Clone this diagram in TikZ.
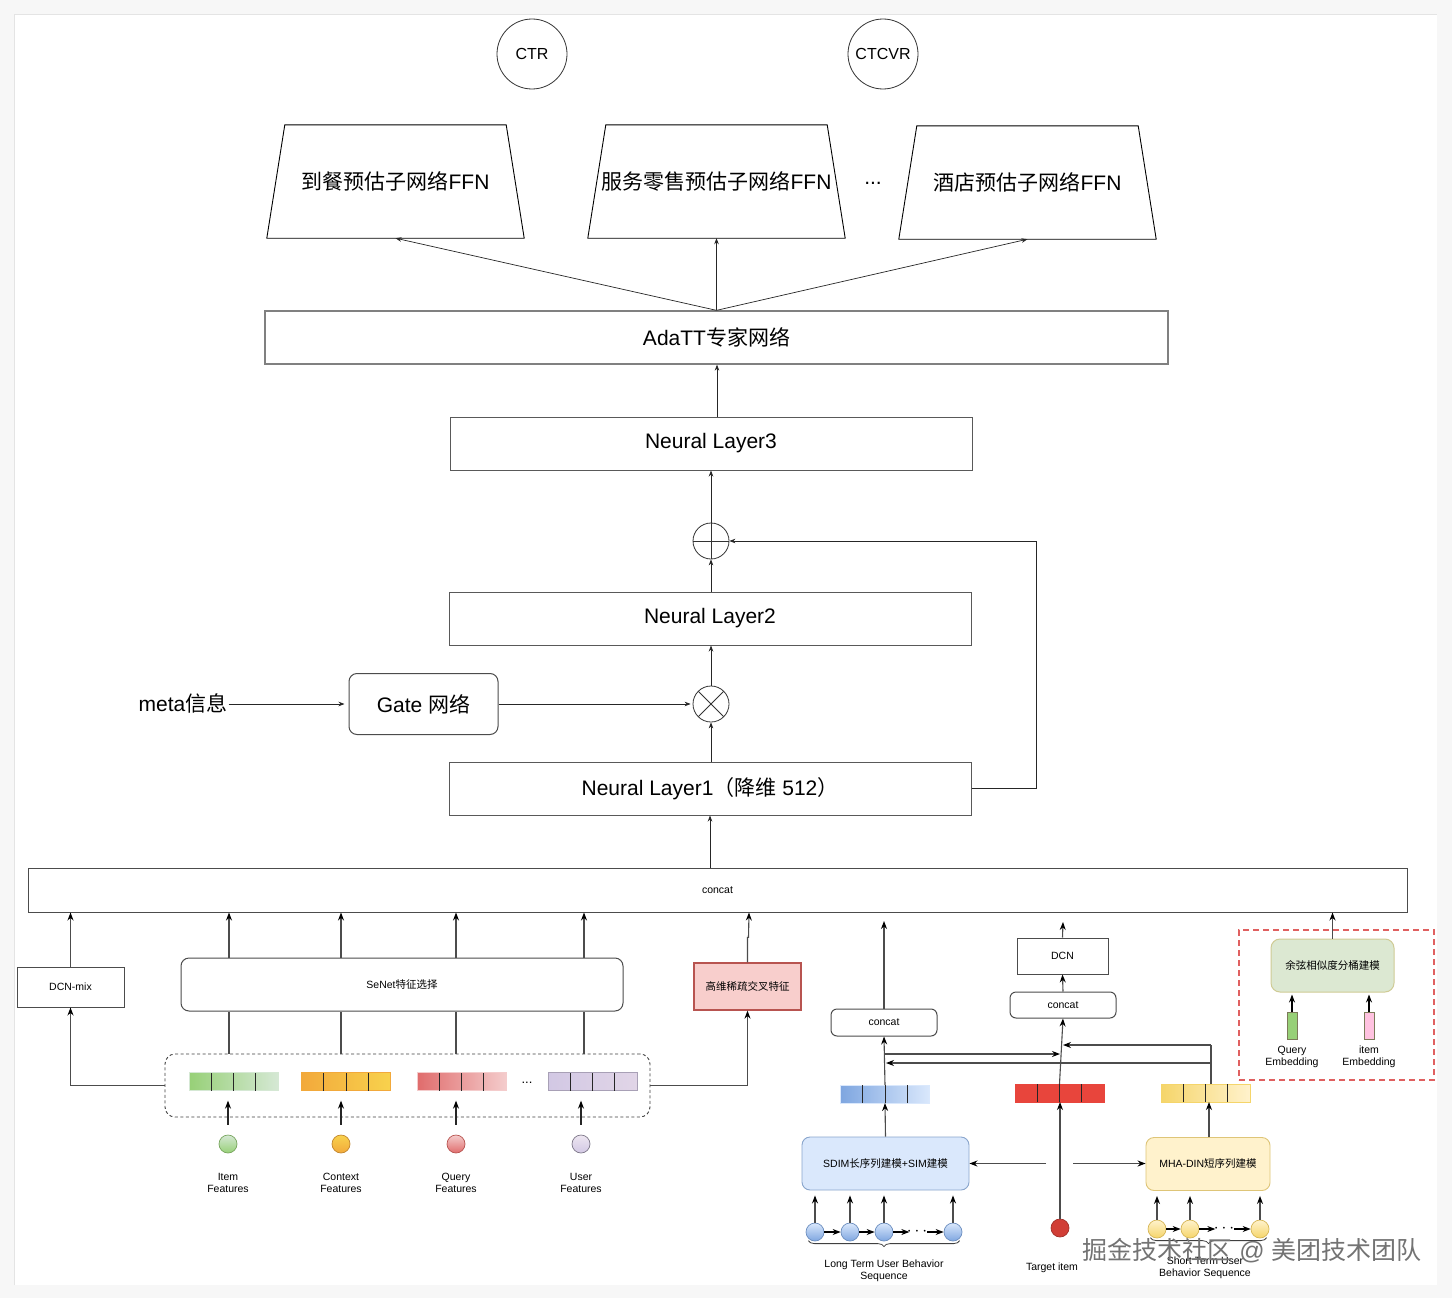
\documentclass[tikz,border=0pt]{standalone}
\usepackage{fontspec}
\setmainfont{Liberation Sans}
\newfontfamily\cjk{Noto Sans CJK SC}
\newcommand\zh[1]{{\cjk #1}}
\newcommand\bigf{\fontsize{21}{25}\selectfont}
\newcommand\smallf{\fontsize{10.5}{12.5}\selectfont}
\usetikzlibrary{arrows.meta,decorations.pathreplacing}

\definecolor{pagebg}{HTML}{F7F7F7}
\definecolor{panelline}{HTML}{E4E4E4}
\definecolor{greenA}{HTML}{97D077}
\definecolor{greenB}{HTML}{D5E8D4}
\definecolor{orangeA}{HTML}{F2A93B}
\definecolor{orangeB}{HTML}{F8D24D}
\definecolor{redA}{HTML}{E06C6C}
\definecolor{redB}{HTML}{F4CCCC}
\definecolor{purpA}{HTML}{D2C8E4}
\definecolor{purpB}{HTML}{E1D5E7}
\definecolor{blueA}{HTML}{7EA6E0}
\definecolor{blueB}{HTML}{DAE8FC}
\definecolor{blueLine}{HTML}{6C8EBF}
\definecolor{tgtRed}{HTML}{E8453C}
\definecolor{yelA}{HTML}{F5D56A}
\definecolor{yelB}{HTML}{FFF2CC}
\definecolor{yelLine}{HTML}{D6B656}
\definecolor{pinkRed}{HTML}{F8CECC}
\definecolor{pinkLine}{HTML}{B85450}
\definecolor{dashRed}{HTML}{E06060}
\definecolor{cosFill}{HTML}{DCE8D2}
\definecolor{cosLine}{HTML}{CFCB95}

\newcommand\cells[1]{\foreach \k in {1,2,3}
  \draw[black!85, line width=0.8pt] ([xshift=\k*22.25]#1.south west) -- ([xshift=\k*22.25]#1.north west);}
\newcommand\tower[1]{\draw[black, line width=0.9pt] (#1.south west) -- ([xshift=18]#1.north west)
  -- ([xshift=-18]#1.north east) -- (#1.south east) -- cycle;}

\begin{document}
\begin{tikzpicture}[x=1pt, y=-1pt,
  circ/.style={circle, draw=black!80, line width=0.8pt, minimum size=70, font=\fontsize{16}{19}\selectfont},
  ffn/.style={minimum width=257, minimum height=113, inner sep=0, font=\bigf},
  layer/.style={draw=black!65, line width=1pt, minimum width=522, minimum height=53, font=\bigf},
  op/.style={circle, draw=black!80, line width=0.8pt, minimum size=36, inner sep=0},
  arr/.style={-{Stealth[length=6pt,width=4.5pt]}, black!85, line width=0.7pt},
  lineB/.style={black!70, line width=1.1pt},
  arrB/.style={lineB, -{Stealth[length=8pt,width=6pt,black]}},
  sbox/.style={draw=black!70, line width=1pt, font=\smallf, inner sep=0},
  rbox/.style={sbox, rounded corners=6pt},
  vec/.style={draw=#1, line width=0.8pt, minimum width=89, minimum height=18, inner sep=0, outer sep=0},
  featdot/.style={circle, draw=#1, line width=0.7pt, minimum size=18, inner sep=0},
  lbl/.style={align=center, font=\smallf, inner sep=0}
]
\useasboundingbox (0,0) rectangle (1452,1298);
\fill[pagebg] (0,0) rectangle (1452,1298);
\fill[white] (14,15) rectangle (1437,1285);
\draw[panelline, line width=1pt] (14,1285) -- (14,15) -- (1437,15);

% tasks
\node[circ] (ctr) at (532,54) {CTR};
\node[circ] (ctcvr) at (883,54) {CTCVR};

% towers
\node[ffn] (ffnA) at (395.5,181.5) {\zh{到餐预估子网络}FFN};
\node[ffn] (ffnB) at (716.5,181.5) {\zh{服务零售预估子网络}FFN};
\node[ffn] (ffnC) at (1027.5,182.5) {\zh{酒店预估子网络}FFN};
\tower{ffnA}\tower{ffnB}\tower{ffnC}
\node[font=\bigf] (more) at (873,183) {...};

\node[layer, draw=black!50, line width=1.3pt, minimum width=903] (adatt) at (716.5,337.5) {AdaTT\zh{专家网络}};
\draw[arr] (adatt.north) -- (ffnA.south);
\draw[arr] (adatt.north) -- (ffnB.south);
\draw[arr] (adatt.north) -- (ffnC.south);

\node[layer] (nl3) at (711,443.5) {Neural Layer3};
\node[op, path picture={
  \draw[black!80, line width=0.8pt] (path picture bounding box.north) -- (path picture bounding box.south);
  \draw[black!80, line width=0.8pt] (path picture bounding box.west) -- (path picture bounding box.east);}] (oplus) at (711,541) {};
\node[layer] (nl2) at (710,618.5) {Neural Layer2};
\node[op, path picture={
  \draw[black!80, line width=0.8pt] (path picture bounding box.north west) -- (path picture bounding box.south east);
  \draw[black!80, line width=0.8pt] (path picture bounding box.south west) -- (path picture bounding box.north east);}] (otimes) at (711,704) {};
\node[draw=black!70, line width=1pt, rounded corners=8pt, minimum width=149, minimum height=61, font=\bigf] (gate) at (423.5,704) {Gate \zh{网络}};
\node[font=\bigf, inner sep=1pt] (meta) at (183,703) {meta\zh{信息}};
\node[layer] (nl1) at (710,788.5) {Neural Layer1\zh{（降维} 512\zh{）}};

\draw[arr] (717,0 |- nl3.north) -- (717,0 |- adatt.south);
\draw[arr] (oplus.north) -- (nl3.south);
\draw[arr] (oplus.south |- nl2.north) -- (oplus.south);
\draw[arr] (otimes.north) -- (otimes.north |- nl2.south);
\draw[arr] (otimes.south |- nl1.north) -- (otimes.south);
\draw[arr] (meta.east |- gate.west) -- ([xshift=-4]gate.west);
\draw[arr] (gate.east) -- ([xshift=-2]otimes.west);
\draw[arr] (nl1.east) -- ++(65,0) |- (oplus.east);

% feature layer
\node[sbox, minimum width=1379, minimum height=44] (concat) at (717.5,890) {concat};
\draw[arr] (nl1.south |- concat.north) -- (nl1.south);

\node[sbox, minimum width=107, minimum height=40] (dcnmix) at (70.5,987) {DCN-mix};
\node[rbox, rounded corners=8pt, minimum width=442, minimum height=53] (senet) at (402,984.5) {SeNet\zh{特征选择}};
\node[draw=black!75, line width=0.9pt, dashed, dash pattern=on 3pt off 2.5pt, rounded corners=10pt,
  minimum width=485, minimum height=63] (featbox) at (407.5,1085.5) {};
\node[sbox, draw=pinkLine, line width=1.3pt, fill=pinkRed, minimum width=107, minimum height=47] (cross) at (747.5,986.5) {\zh{高维稀疏交叉特征}};

\node[vec=greenB, left color=greenA, right color=greenB] (vItem) at (233.5,1081.5) {};
\node[vec=orangeA, left color=orangeA, right color=orangeB] (vCtx) at (346,1081.5) {};
\node[vec=redB, left color=redA, right color=redB] (vQry) at (461.5,1081.5) {};
\node[vec=purpA!80!black, left color=purpA, right color=purpB] (vUsr) at (592.5,1081.5) {};
\cells{vItem}\cells{vCtx}\cells{vQry}\cells{vUsr}
\node[font=\fontsize{13}{15}\selectfont] (vdots) at (527,1083) {...};

\node[featdot=greenA!80!black, top color=greenB, bottom color=greenA] (fItem) at (228,1144) {};
\node[featdot=orangeA!80!black, top color=orangeB, bottom color=orangeA] (fCtx) at (341,1144) {};
\node[featdot=pinkLine, top color=redB, bottom color=redA] (fQry) at (456,1144) {};
\node[featdot=purpA!60!black, top color=purpB!60!white, bottom color=purpA] (fUsr) at (581,1144) {};
\node[lbl] (tItem) at (228,1183) {Item\\Features};
\node[lbl] (tCtx) at (341,1183) {Context\\Features};
\node[lbl] (tQry) at (456,1183) {Query\\Features};
\node[lbl] (tUsr) at (581,1183) {User\\Features};

\foreach \f/\v in {fItem/vItem,fCtx/vCtx,fQry/vQry,fUsr/vUsr}
  \draw[arrB, black!85] ([yshift=10]\f.north) -- ([yshift=34]\f.north);
\foreach \x in {229,341,456,584} {
  \draw[lineB] (\x,0 |- featbox.north) -- (\x,0 |- senet.south);
  \draw[arrB] (\x,0 |- senet.north) -- (\x,0 |- concat.south);
}
\draw[arrB] (featbox.west) -| (dcnmix.south);
\draw[arrB] (dcnmix.north) -- (dcnmix.north |- concat.south);
\draw[arrB] (featbox.east) -| (cross.south);
\draw[arrB] (cross.north) -- ++(0,-25) -- ++(1,0) -- (749,0 |- concat.south);

% sequence part
\node[rbox, minimum width=106, minimum height=27] (concatL) at (884,1022.5) {concat};
\node[rbox, minimum width=106, minimum height=26] (concatR) at (1063,1005) {concat};
\node[sbox, minimum width=91, minimum height=36] (dcn) at (1062.5,956) {DCN};
\coordinate (outL) at (884,921);
\coordinate (outR) at (1063,922);

\node[vec=blueB, left color=blueA, right color=blueB] (bvec) at (885,1094) {};
\node[vec=tgtRed, fill=tgtRed] (rvec) at (1059.5,1093) {};
\node[vec=yelA, left color=yelA, right color=yelB] (yvec) at (1205.5,1093) {};
\cells{bvec}\cells{rvec}\cells{yvec}

\node[rbox, draw=blueLine!80, fill=blueB, line width=0.9pt, rounded corners=8pt, minimum width=167, minimum height=53] (sdim) at (885.5,1163.5) {SDIM\zh{长序列建模}+SIM\zh{建模}};
\node[rbox, draw=yelLine!80, fill=yelB, line width=0.9pt, rounded corners=8pt, minimum width=124, minimum height=53] (mha) at (1208,1164) {MHA-DIN\zh{短序列建模}};

\draw[arrB] (bvec.north) -- (concatL.south);
\draw[arrB] (concatL.north) -- (outL);
\draw[arrB] (rvec.north) -- (concatR.south);
\draw[arrB] (concatR.north) -- (dcn.south);
\draw[arrB] (dcn.north) -- (outR);
\draw[arrB] (884,1054) -- (1060,1054);
\draw[lineB] (1211,0 |- yvec.north) -- (1211,1045);
\draw[arrB] (1211,1045) -- (1063,1045);
\draw[arrB] (1211,1063) -- (886,1063);
\draw[arrB] (sdim.north) -- (bvec.south);
\draw[arrB] (1209,0 |- mha.north) -- (1209,0 |- yvec.south);

\node[featdot=tgtRed!70!black, fill=tgtRed!90!black] (target) at (1060,1228) {};
\node[lbl] (tTarget) at (1052,1268) {Target item};
\draw[arrB] (target.north) -- (target.north |- rvec.south);
\coordinate (toL) at (1046,1163.5);
\coordinate (toR) at (1073,1163.5);
\draw[arrB] (toL) -- (toL -| sdim.east);
\draw[arrB] (toR) -- (toR -| mha.west);

% long term sequence
\foreach \n/\x in {l1/815,l2/850,l3/884,l4/953}
  \node[featdot=blueLine, top color=blueB, bottom color=blueA] (\n) at (\x,1232) {};
\foreach \n in {l1,l2,l3,l4}
  \draw[arrB] (\n.north) -- ([yshift=-5]\n.north |- sdim.south);
\draw[arrB, black] (l1) -- (l2);
\draw[arrB, black] (l2) -- (l3);
\draw[arrB, black] (l3.east) -- ++(16,0);
\node[font=\fontsize{17}{20}\selectfont\bfseries, inner sep=0] (ldots) at (917,1232) {$\cdots$};
\draw[arrB, black] (927,1232) -- (l4.west);
\draw[decorate, decoration={brace, mirror, amplitude=6pt}, black!75, line width=0.8pt]
  ([yshift=-2]l1.south west) -- ([yshift=-2]l4.south east);
\node[lbl] (tLong) at (884,1271) {Long Term User Behavior\\Sequence};

% short term sequence
\foreach \n/\x in {s1/1157,s2/1190,s3/1260}
  \node[featdot=yelLine, top color=yelB, bottom color=yelA] (\n) at (\x,1229) {};
\foreach \n in {s1,s2,s3}
  \draw[arrB] (\n.north) -- ([yshift=-5]\n.north |- mha.south);
\draw[arrB, black] (s1) -- (s2);
\draw[arrB, black] (s2.east) -- ++(16,0);
\node[font=\fontsize{17}{20}\selectfont\bfseries, inner sep=0] (sdots) at (1224,1229) {$\cdots$};
\draw[arrB, black] (1234,1229) -- (s3.west);
\draw[decorate, decoration={brace, mirror, amplitude=6pt}, black!75, line width=0.8pt]
  ([yshift=-2]s1.south west) -- ([yshift=-2]s3.south east);
\node[lbl] (tShort) at (1205,1268) {Short Term User\\Behavior Sequence};

% cosine bucket
\node[draw=dashRed, line width=1.5pt, dash pattern=on 6pt off 4pt, minimum width=195, minimum height=150] (cosbox) at (1336.5,1005) {};
\node[rbox, draw=cosLine, fill=cosFill, line width=1pt, rounded corners=9pt, minimum width=123, minimum height=53] (cos) at (1332.5,965.5) {\zh{余弦相似度分桶建模}};
\node[draw=cosLine!60!black, fill=greenA, line width=0.7pt, minimum width=10, minimum height=27, inner sep=0] (qemb) at (1292,1025.5) {};
\node[draw=cosLine!60!black, fill=pink!80!magenta!60, line width=0.7pt, minimum width=10, minimum height=27, inner sep=0] (iemb) at (1369,1025.5) {};
\draw[arrB, black] (qemb.north) -- ([yshift=-2]qemb.north |- cos.south);
\draw[arrB, black] (iemb.north) -- ([yshift=-2]iemb.north |- cos.south);
\node[lbl] (tQemb) at (1292,1057) {Query\\Embedding};
\node[lbl] (tIemb) at (1369,1057) {item\\Embedding};
\draw[arrB] (cos.north) -- (cos.north |- concat.south);

% watermark
\node[font=\fontsize{25}{29}\selectfont, text=black!55, inner sep=0] (wm) at (1252,1251) {\zh{掘金技术社区} @ \zh{美团技术团队}};
\end{tikzpicture}
\end{document}
